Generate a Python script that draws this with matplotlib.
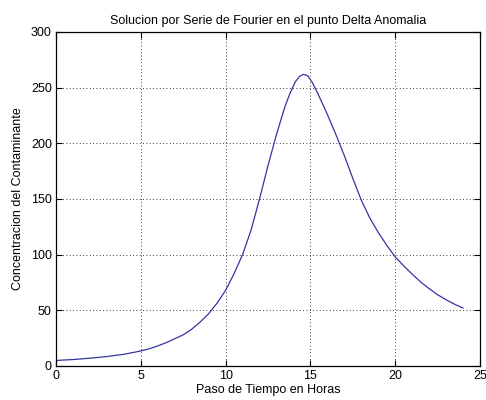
import matplotlib
matplotlib.use("Agg")
import matplotlib.pyplot as plt

hours = [0, 1, 2, 3, 4, 5, 5.5, 6, 6.5, 7, 7.5, 8, 8.5, 9, 9.5, 10, 10.5, 11,
         11.5, 12, 12.5, 13, 13.5, 13.8, 14.1, 14.35, 14.6, 14.85, 15.1, 15.4,
         15.7, 16, 16.5, 17, 17.5, 18, 18.5, 19, 19.5, 20, 20.5, 21, 21.5, 22,
         22.5, 23, 23.5, 24]
conc = [5, 5.8, 7, 8.5, 10.5, 13.5, 15.5, 18, 21, 24.5, 28, 33, 39.5, 47, 56.5,
        68, 83, 100, 122, 150, 180, 208, 233, 245, 255, 260, 262, 260.5, 255,
        246, 236, 226, 208, 189, 168.5, 149, 133, 120, 108.5, 98, 90, 82.5,
        75.5, 69.5, 64, 59.5, 55.5, 52]

xticks = [0, 5, 10, 15, 20, 25]
yticks = [0, 50, 100, 150, 200, 250, 300]

plt.rcParams['font.family'] = ['Liberation Sans', 'DejaVu Sans']

fig = plt.figure(figsize=(4.86, 4.0), dpi=100)
ax = fig.add_axes([56/486, 34/400, 424/486, 334/400])
ax.plot(hours, conc, color='#3535a0', linewidth=0.9)
ax.set_xlim(0, 25)
ax.set_ylim(0, 300)
ax.set_xticks(xticks)
ax.set_yticks(yticks)
ax.grid(True, linestyle=(0, (1, 3)), color='black', linewidth=0.6)
ax.tick_params(direction='in', top=True, right=True, labelsize=9,
               length=4, width=0.8, pad=3)
for s in ax.spines.values():
    s.set_linewidth(0.9)
ax.set_title('Solucion por Serie de Fourier en el punto Delta Anomalia',
             fontsize=9, pad=6)
ax.set_xlabel('Paso de Tiempo en Horas', fontsize=9, labelpad=1)
ax.set_ylabel('Concentracion del Contaminante', fontsize=9, labelpad=5)
fig.savefig('out.png', dpi=100)
